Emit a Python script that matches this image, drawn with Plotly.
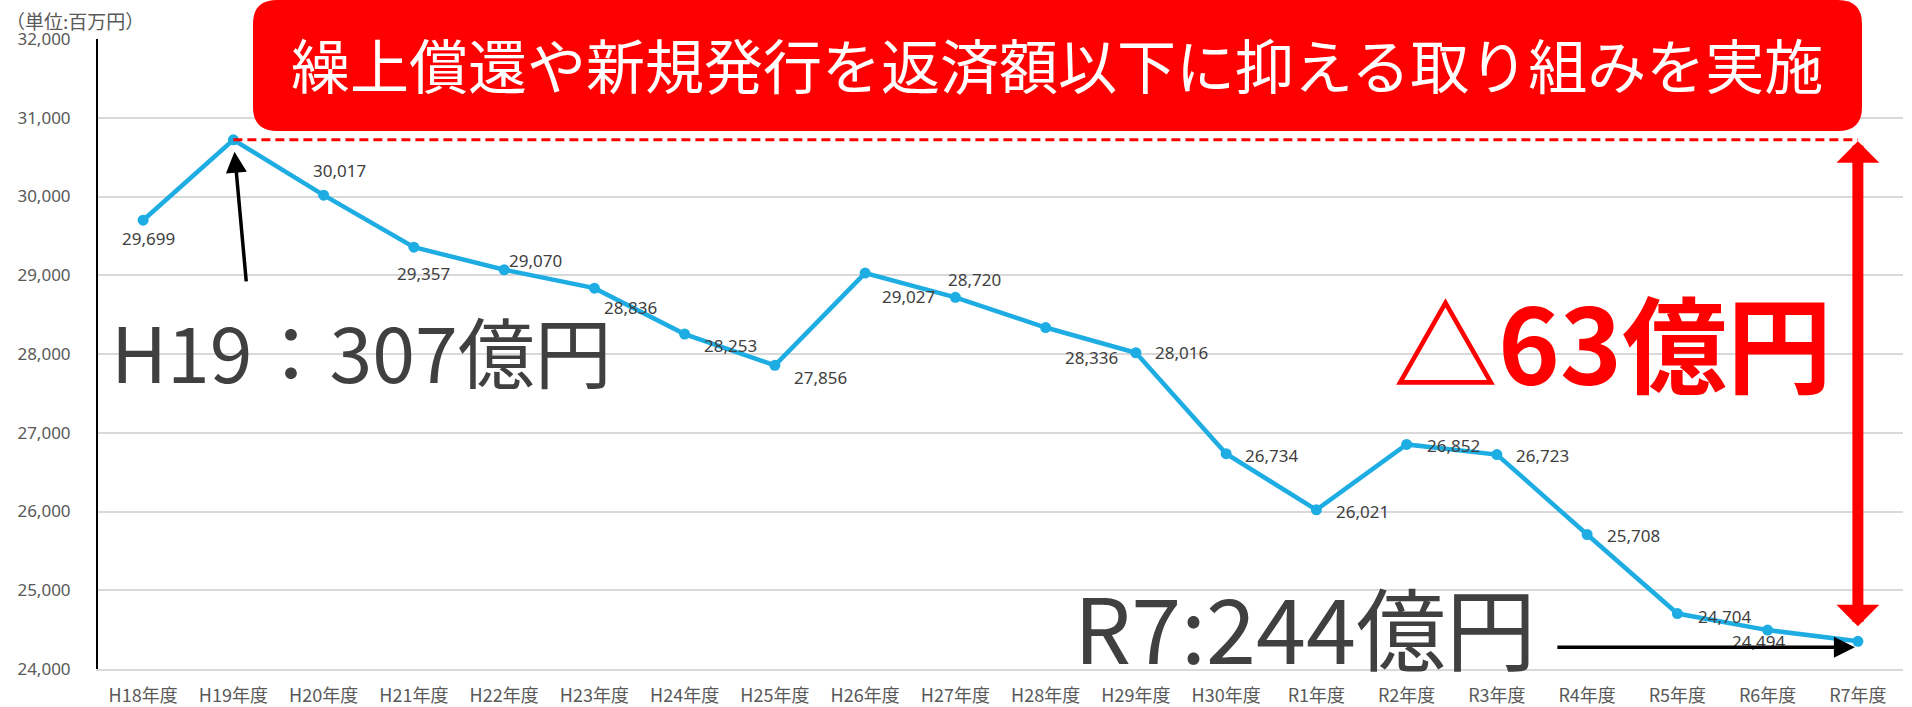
import plotly.graph_objects as go

years = ["H18年度", "H19年度", "H20年度", "H21年度", "H22年度", "H23年度", "H24年度",
         "H25年度", "H26年度", "H27年度", "H28年度", "H29年度", "H30年度", "R1年度",
         "R2年度", "R3年度", "R4年度", "R5年度", "R6年度", "R7年度"]
balance = [29699, 30720, 30017, 29357, 29070, 28836, 28253, 27856, 29027, 28720,
           28336, 28016, 26734, 26021, 26852, 26723, 25708, 24704, 24494, 24352]
y_ticks = [24000, 25000, 26000, 27000, 28000, 29000, 30000, 31000, 32000]

unit_text = "（単位:百万円）"
banner_text = "繰上償還や新規発行を返済額以下に抑える取り組みを実施"
h19_text = "H19：307億円"
r7_text = "R7:244億円"
diff_text = "△63億円"

# where each data label sits relative to its point (dx right, dy down, px); None = no label
label_pos = [(5, 18), None, (16, -25), (10, 26), (31, -9), (36, 19), (46, 11), (46, 12),
             (43, 23), (19, -18), (46, 30), (46, 0), (45, 2), (46, 2), (47, 1), (46, 1),
             (46, 1), (47, 3), (-9, 11), None]

W, H = 1912, 707
L, R, T, B = 98, 9, 39, 38


def px(x):
    return (x - L) / (W - L - R)


def py(y):
    return (H - B - y) / (H - T - B)


idx = list(range(len(years)))
blue = "#1eade3"
grey = "#595959"
dark = "#404040"

fig = go.Figure()
fig.add_trace(go.Scatter(x=idx, y=balance, mode="lines+markers",
                         line=dict(color=blue, width=4.5),
                         marker=dict(color=blue, size=11),
                         hoverinfo="skip", showlegend=False))

ann = []
for i, pos in enumerate(label_pos):
    if pos is None:
        continue
    ann.append(dict(x=idx[i], y=balance[i], text=f"{balance[i]:,}", showarrow=False,
                    xshift=pos[0], yshift=-pos[1],
                    font=dict(family="Noto Sans", size=17, color=dark)))

# red dashed reference line from H19 level
shapes = [dict(type="line", xref="x", yref="y", x0=idx[1], x1=idx[-1],
               y0=balance[1], y1=balance[1],
               line=dict(color="#ff0000", width=3, dash="9px,5px"))]

# banner with rounded corners
x0, x1 = px(253), px(1862)
yt, yb = py(0), py(131)
rx, ry = 24 / (W - L - R), 24 / (H - T - B)
path = (f"M {x0+rx},{yt} L {x1-rx},{yt} Q {x1},{yt} {x1},{yt-ry} L {x1},{yb+ry} "
        f"Q {x1},{yb} {x1-rx},{yb} L {x0+rx},{yb} Q {x0},{yb} {x0},{yb+ry} "
        f"L {x0},{yt-ry} Q {x0},{yt} {x0+rx},{yt} Z")
shapes.append(dict(type="path", xref="paper", yref="paper", path=path,
                   fillcolor="#ff0000", line=dict(width=0)))

ann.append(dict(xref="paper", yref="paper", x=px(1057), y=py(64), text=banner_text,
                showarrow=False, xanchor="center", yanchor="middle",
                font=dict(family="Noto Sans CJK JP", size=59, color="white")))

# red double arrow between H19 and R7 levels
ann.append(dict(x=idx[-1], y=balance[-1], ax=idx[-1], ay=balance[1], axref="x", ayref="y",
                text="", showarrow=True, arrowside="end+start",
                arrowhead=1, arrowsize=0.65, startarrowhead=1, startarrowsize=0.65,
                arrowwidth=11, arrowcolor="#ff0000", standoff=15, startstandoff=0))

# black arrows
ann.append(dict(x=idx[1], y=balance[1], ax=13, ay=143, text="", showarrow=True,
                arrowhead=2, arrowsize=1.2, arrowwidth=3.5, arrowcolor="black", standoff=12))
ann.append(dict(x=idx[-1], y=balance[-1], ax=-302, ay=0, yshift=-6, text="",
                showarrow=True, arrowhead=2, arrowsize=1.2, arrowwidth=3.5,
                arrowcolor="black", standoff=3))

ann.append(dict(xref="paper", yref="paper", x=px(361), y=py(349), text=h19_text,
                showarrow=False, xanchor="center", yanchor="middle",
                font=dict(family="Noto Sans CJK JP", size=77, color=dark)))
ann.append(dict(xref="paper", yref="paper", x=px(1305), y=py(625), text=r7_text,
                showarrow=False, xanchor="center", yanchor="middle",
                font=dict(family="Noto Sans CJK JP", size=90, color=dark)))
ann.append(dict(xref="paper", yref="paper", x=px(1612), y=py(339), text="<b>" + diff_text + "</b>",
                showarrow=False, xanchor="center", yanchor="middle",
                font=dict(family="Noto Sans CJK JP", size=105, color="#ff0000")))

ann.append(dict(xref="paper", yref="paper", x=px(4), y=py(20), text=unit_text,
                showarrow=False, xanchor="left", yanchor="middle",
                font=dict(family="Noto Sans CJK JP", size=19, color=grey)))

fig.update_layout(
    width=W, height=H,
    margin=dict(l=L, r=R, t=T, b=B, autoexpand=False),
    plot_bgcolor="white", paper_bgcolor="white",
    font=dict(family="Noto Sans CJK JP", color=grey),
    shapes=shapes, annotations=ann,
    xaxis=dict(range=[-0.5, len(years) - 0.5], tickvals=idx, ticktext=years,
               showgrid=False, zeroline=False, showline=True, linecolor="#d9d9d9",
               linewidth=1.5, ticklabelstandoff=10, automargin=False,
               tickfont=dict(family="Noto Sans CJK JP", size=18, color=grey)),
    yaxis=dict(range=[y_ticks[0], y_ticks[-1]], tickvals=y_ticks, tickformat=",",
               showgrid=True, gridcolor="#d9d9d9", gridwidth=1.5, zeroline=False,
               showline=True, linecolor="black", linewidth=2, ticklabelstandoff=22,
               automargin=False,
               tickfont=dict(family="Noto Sans", size=17, color=grey)),
)

# the page body has a default 8px margin; drop it so the chart fills the window
fig.write_html("out.html", config={"displayModeBar": False},
               post_script="document.body.style.margin='0';")
